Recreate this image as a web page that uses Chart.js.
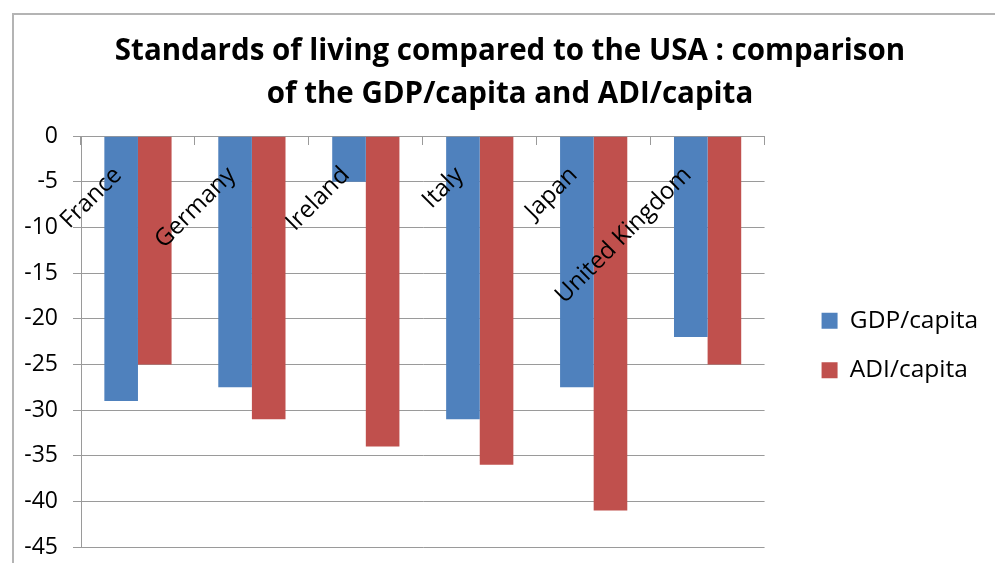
<!DOCTYPE html>
<html>
<head>
<meta charset="utf-8">
<script src="https://cdn.jsdelivr.net/npm/chart.js@4.4.0/dist/chart.umd.min.js"></script>
<style>
    html, body { margin: 0; padding: 0; background: #fff; overflow: hidden; }
    #frame {
        position: absolute; left: 12px; top: 13px; width: 1100px; height: 700px;
        border-left: 2px solid #b4b4b4; border-top: 2px solid #b4b4b4;
    }
    #chart { position: absolute; left: 0; top: 0; }
</style>
</head>
<body>
<div id="frame"></div>
<canvas id="chart" width="995" height="563"></canvas>
<script>
const categories = ['France', 'Germany', 'Ireland', 'Italy', 'Japan', 'United Kingdom'];
const gdpPerCapita = [-29, -27.5, -5, -31, -27.5, -22];
const adiPerCapita = [-25, -31, -34, -36, -41, -25];
const yMin = -45;
const yMax = 0;
const yStep = 5;

const gridGrey = '#9a9a9a';

document.addEventListener('DOMContentLoaded', function() {
    const ctx = document.getElementById('chart').getContext('2d');
    const chart = new Chart(ctx, {
        type: 'bar',
        data: {
            labels: categories,
            datasets: [{
                label: 'GDP/capita',
                data: gdpPerCapita,
                backgroundColor: '#4F81BD',
                barPercentage: 1,
                categoryPercentage: 0.59
            }, {
                label: 'ADI/capita',
                data: adiPerCapita,
                backgroundColor: '#C0504D',
                barPercentage: 1,
                categoryPercentage: 0.59
            }]
        },
        options: {
            responsive: false,
            animation: false,
            layout: {
                padding: { left: 25, right: 0, top: 0, bottom: 16 }
            },
            scales: {
                x: {
                    // category axis sits on the 0 line, labels hang into the plot
                    position: { y: 0 },
                    afterFit: function(scale) { scale.height = 0; },
                    grid: {
                        drawOnChartArea: false,
                        drawTicks: true,
                        tickLength: 8,
                        color: gridGrey
                    },
                    border: { display: true, color: gridGrey },
                    ticks: {
                        z: 1,
                        minRotation: 45,
                        maxRotation: 45,
                        padding: 17,
                        labelOffset: -20,
                        color: '#000',
                        font: { family: 'Open Sans', size: 24 }
                    }
                },
                y: {
                    min: yMin,
                    max: yMax,
                    afterFit: function(scale) {
                        scale.width = 56;
                        scale.paddingTop = 0;
                        scale.paddingBottom = 0;
                    },
                    grid: {
                        color: gridGrey,
                        tickLength: 8
                    },
                    border: { display: true, color: gridGrey },
                    ticks: {
                        stepSize: yStep,
                        padding: 15,
                        color: '#000',
                        font: { family: 'Open Sans', size: 23 }
                    }
                },
                // invisible spacers around the legend
                gap: {
                    axis: 'y',
                    position: 'right',
                    display: false,
                    afterFit: function(scale) { scale.width = 32; }
                },
                edge: {
                    axis: 'y',
                    position: 'right',
                    weight: 2000,
                    display: false,
                    afterFit: function(scale) { scale.width = 7; }
                }
            },
            plugins: {
                title: {
                    display: true,
                    text: ['Standards of living compared to the USA : comparison',
                           'of the GDP/capita and ADI/capita'],
                    color: '#000',
                    font: { family: 'Open Sans', size: 29.5, weight: 'bold', lineHeight: 1.46 },
                    padding: { top: 30, bottom: 20 }
                },
                legend: {
                    position: 'right',
                    fullSize: false,
                    title: {
                        display: true,
                        text: '',
                        font: { size: 8, lineHeight: 1 },
                        padding: 0
                    },
                    labels: {
                        boxWidth: 16,
                        boxHeight: 16,
                        padding: 25,
                        color: '#000',
                        font: { family: 'Open Sans', size: 24.5 }
                    }
                },
                tooltip: { enabled: false }
            }
        }
    });
});
</script>
</body>
</html>
